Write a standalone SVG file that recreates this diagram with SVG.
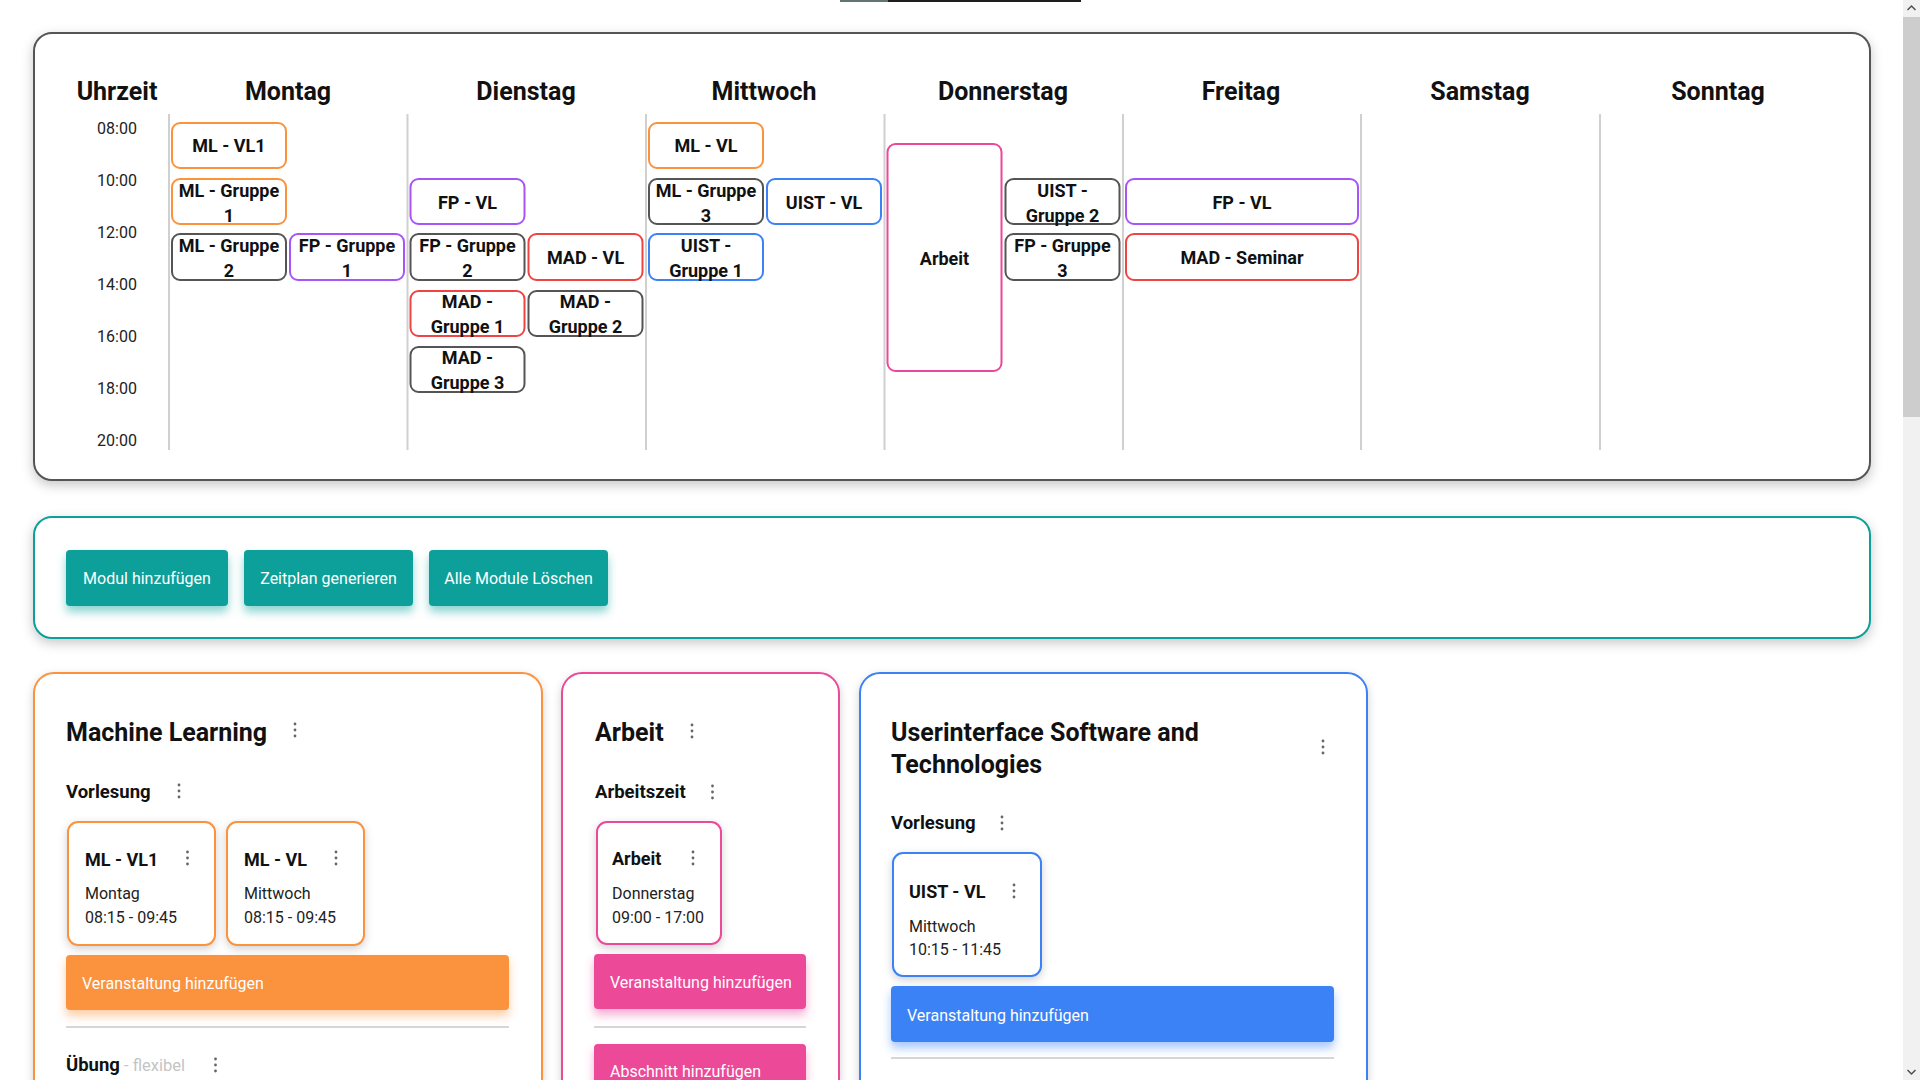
<svg xmlns="http://www.w3.org/2000/svg" width="1920" height="1080" viewBox="0 0 1920 1080">
<defs>
  <filter id="shPanel" x="-5%" y="-10%" width="110%" height="125%">
    <feDropShadow dx="0" dy="4" stdDeviation="6" flood-color="#000" flood-opacity="0.22"/>
  </filter>
  <filter id="shCard" x="-10%" y="-10%" width="120%" height="130%">
    <feDropShadow dx="0" dy="3" stdDeviation="4" flood-color="#000" flood-opacity="0.18"/>
  </filter>
  <filter id="shTeal" x="-20%" y="-30%" width="140%" height="190%">
    <feDropShadow dx="0" dy="6" stdDeviation="5" flood-color="#0c9f99" flood-opacity="0.45"/>
  </filter>
  <filter id="shOrange" x="-10%" y="-30%" width="120%" height="190%">
    <feDropShadow dx="0" dy="6" stdDeviation="5" flood-color="#fb923c" flood-opacity="0.45"/>
  </filter>
  <filter id="shPink" x="-10%" y="-30%" width="120%" height="190%">
    <feDropShadow dx="0" dy="6" stdDeviation="5" flood-color="#ec4899" flood-opacity="0.45"/>
  </filter>
  <filter id="shBlue" x="-10%" y="-30%" width="120%" height="190%">
    <feDropShadow dx="0" dy="6" stdDeviation="5" flood-color="#3b82f6" flood-opacity="0.45"/>
  </filter>
  <g id="kebab">
    <circle cx="0" cy="-6" r="1.4"/>
    <circle cx="0" cy="0" r="1.4"/>
    <circle cx="0" cy="6" r="1.4"/>
  </g>
</defs>
<style>
  text { font-family: Roboto, "Noto Sans", sans-serif; fill: #111; }
  .hdr { font-size: 25px; font-weight: 700; text-anchor: middle; }
  .time { font-size: 16px; text-anchor: middle; fill: #222; }
  .ev { font-size: 18px; font-weight: 700; text-anchor: middle; }
  .evbox { fill: #fff; stroke-width: 2; }
  .o { stroke: #fb923c; }
  .g { stroke: #555; }
  .p { stroke: #a855f7; }
  .r { stroke: #ef4444; }
  .b { stroke: #3b82f6; }
  .k { stroke: #ec4899; }
  .col { stroke: #d0d0d0; stroke-width: 2; }
  .btn { font-size: 16px; fill: #fff; }
  .title { font-size: 25px; font-weight: 700; }
  .sub { font-size: 18.5px; font-weight: 700; }
  .evt { font-size: 18px; font-weight: 700; }
  .info { font-size: 16px; fill: #222; }
  .muted { font-size: 16.5px; fill: #c4c4c4; }
  .keb { fill: #666; }
  .div { stroke: #d6d6d6; stroke-width: 2; }
</style>
<rect width="1920" height="1080" fill="#fff"/>
<rect x="840" y="0" width="48" height="2" fill="#627474"/>
<rect x="888" y="0" width="193" height="2" fill="#1e1e1e"/>

<g id="schedule">
  <rect x="34" y="33" width="1836" height="447" rx="18" fill="#fff" stroke="#555" stroke-width="2" filter="url(#shPanel)"/>
  <g id="headers">
    <text class="hdr" x="117" y="100">Uhrzeit</text>
    <text class="hdr" x="288" y="100">Montag</text>
    <text class="hdr" x="526" y="100">Dienstag</text>
    <text class="hdr" x="764" y="100">Mittwoch</text>
    <text class="hdr" x="1003" y="100">Donnerstag</text>
    <text class="hdr" x="1241" y="100">Freitag</text>
    <text class="hdr" x="1480" y="100">Samstag</text>
    <text class="hdr" x="1718" y="100">Sonntag</text>
  </g>
  <g id="times">
    <text class="time" x="117" y="133.5">08:00</text>
    <text class="time" x="117" y="185.5">10:00</text>
    <text class="time" x="117" y="237.5">12:00</text>
    <text class="time" x="117" y="289.5">14:00</text>
    <text class="time" x="117" y="341.5">16:00</text>
    <text class="time" x="117" y="393.5">18:00</text>
    <text class="time" x="117" y="445.5">20:00</text>
  </g>
  <g id="columns">
    <line class="col" x1="169" y1="114" x2="169" y2="450"/>
    <line class="col" x1="407.5" y1="114" x2="407.5" y2="450"/>
    <line class="col" x1="646" y1="114" x2="646" y2="450"/>
    <line class="col" x1="884.5" y1="114" x2="884.5" y2="450"/>
    <line class="col" x1="1123" y1="114" x2="1123" y2="450"/>
    <line class="col" x1="1361" y1="114" x2="1361" y2="450"/>
    <line class="col" x1="1600" y1="114" x2="1600" y2="450"/>
  </g>

  <g id="ev-ml-vl1"><rect class="evbox o" x="172" y="123" width="114" height="45" rx="8"/><text class="ev" x="229" y="152">ML - VL1</text></g>
  <g id="ev-ml-g1"><rect class="evbox o" x="172" y="179" width="114" height="45" rx="8"/><text class="ev" x="229" y="197">ML - Gruppe</text><text class="ev" x="229" y="222">1</text></g>
  <g id="ev-ml-g2"><rect class="evbox g" x="172" y="234" width="114" height="46" rx="8"/><text class="ev" x="229" y="252">ML - Gruppe</text><text class="ev" x="229" y="277">2</text></g>
  <g id="ev-fp-g1"><rect class="evbox p" x="290" y="234" width="114" height="46" rx="8"/><text class="ev" x="347" y="252">FP - Gruppe</text><text class="ev" x="347" y="277">1</text></g>

  <g id="ev-fp-vl-di"><rect class="evbox p" x="410.5" y="179" width="114" height="45" rx="8"/><text class="ev" x="467.5" y="208.5">FP - VL</text></g>
  <g id="ev-fp-g2"><rect class="evbox g" x="410.5" y="234" width="114" height="46" rx="8"/><text class="ev" x="467.5" y="252">FP - Gruppe</text><text class="ev" x="467.5" y="277">2</text></g>
  <g id="ev-mad-vl"><rect class="evbox r" x="528.5" y="234" width="114" height="46" rx="8"/><text class="ev" x="585.5" y="263.5">MAD - VL</text></g>
  <g id="ev-mad-g1"><rect class="evbox r" x="410.5" y="291" width="114" height="45" rx="8"/><text class="ev" x="467.5" y="308">MAD -</text><text class="ev" x="467.5" y="333">Gruppe 1</text></g>
  <g id="ev-mad-g2"><rect class="evbox g" x="528.5" y="291" width="114" height="45" rx="8"/><text class="ev" x="585.5" y="308">MAD -</text><text class="ev" x="585.5" y="333">Gruppe 2</text></g>
  <g id="ev-mad-g3"><rect class="evbox g" x="410.5" y="347" width="114" height="45" rx="8"/><text class="ev" x="467.5" y="364">MAD -</text><text class="ev" x="467.5" y="389">Gruppe 3</text></g>

  <g id="ev-ml-vl-mi"><rect class="evbox o" x="649" y="123" width="114" height="45" rx="8"/><text class="ev" x="706" y="152">ML - VL</text></g>
  <g id="ev-ml-g3"><rect class="evbox g" x="649" y="179" width="114" height="45" rx="8"/><text class="ev" x="706" y="197">ML - Gruppe</text><text class="ev" x="706" y="222">3</text></g>
  <g id="ev-uist-vl"><rect class="evbox b" x="767" y="179" width="114" height="45" rx="8"/><text class="ev" x="824" y="208.5">UIST - VL</text></g>
  <g id="ev-uist-g1"><rect class="evbox b" x="649" y="234" width="114" height="46" rx="8"/><text class="ev" x="706" y="252">UIST -</text><text class="ev" x="706" y="277">Gruppe 1</text></g>

  <g id="ev-arbeit"><rect class="evbox k" x="887.5" y="144" width="114" height="227" rx="8"/><text class="ev" x="944.5" y="264.5">Arbeit</text></g>
  <g id="ev-uist-g2"><rect class="evbox g" x="1005.5" y="179" width="114" height="45" rx="8"/><text class="ev" x="1062.5" y="197">UIST -</text><text class="ev" x="1062.5" y="222">Gruppe 2</text></g>
  <g id="ev-fp-g3"><rect class="evbox g" x="1005.5" y="234" width="114" height="46" rx="8"/><text class="ev" x="1062.5" y="252">FP - Gruppe</text><text class="ev" x="1062.5" y="277">3</text></g>

  <g id="ev-fp-vl-fr"><rect class="evbox p" x="1126" y="179" width="232" height="45" rx="8"/><text class="ev" x="1242" y="208.5">FP - VL</text></g>
  <g id="ev-mad-sem"><rect class="evbox r" x="1126" y="234" width="232" height="46" rx="8"/><text class="ev" x="1242" y="263.5">MAD - Seminar</text></g>
</g>

<g id="toolbar">
  <rect x="34" y="517" width="1836" height="121" rx="18" fill="#fff" stroke="#0c9f99" stroke-width="2" filter="url(#shPanel)"/>
  <g id="btn-modul"><rect x="66" y="550" width="162" height="56" rx="4" fill="#0c9f99" filter="url(#shTeal)"/><text class="btn" x="147" y="584" text-anchor="middle">Modul hinzufügen</text></g>
  <g id="btn-zeitplan"><rect x="244" y="550" width="169" height="56" rx="4" fill="#0c9f99" filter="url(#shTeal)"/><text class="btn" x="328.5" y="584" text-anchor="middle">Zeitplan generieren</text></g>
  <g id="btn-loeschen"><rect x="429" y="550" width="179" height="56" rx="4" fill="#0c9f99" filter="url(#shTeal)"/><text class="btn" x="518.5" y="584" text-anchor="middle">Alle Module Löschen</text></g>
</g>

<g id="module-ml">
  <rect x="34" y="673" width="508" height="440" rx="20" fill="#fff" stroke="#fb923c" stroke-width="2" filter="url(#shCard)"/>
  <text class="title" x="66" y="741">Machine Learning</text>
  <use href="#kebab" class="keb" x="295" y="730"/>
  <text class="sub" x="66" y="798">Vorlesung</text>
  <use href="#kebab" class="keb" x="179" y="791"/>
  <g id="card-ml-vl1">
    <rect x="68" y="822" width="147" height="123" rx="10" fill="#fff" stroke="#fb923c" stroke-width="2" filter="url(#shCard)"/>
    <text class="evt" x="85" y="866">ML - VL1</text>
    <use href="#kebab" class="keb" x="187.5" y="858"/>
    <text class="info" x="85" y="899">Montag</text>
    <text class="info" x="85" y="923">08:15 - 09:45</text>
  </g>
  <g id="card-ml-vl">
    <rect x="227" y="822" width="137" height="123" rx="10" fill="#fff" stroke="#fb923c" stroke-width="2" filter="url(#shCard)"/>
    <text class="evt" x="244" y="866">ML - VL</text>
    <use href="#kebab" class="keb" x="336" y="858"/>
    <text class="info" x="244" y="899">Mittwoch</text>
    <text class="info" x="244" y="923">08:15 - 09:45</text>
  </g>
  <rect x="66" y="955" width="443" height="55" rx="4" fill="#fb923c" filter="url(#shOrange)"/>
  <text class="btn" x="82" y="989">Veranstaltung hinzufügen</text>
  <line class="div" x1="66" y1="1027" x2="509" y2="1027"/>
  <text x="66" y="1071"><tspan class="sub">Übung</tspan><tspan class="muted"> - flexibel</tspan></text>
  <use href="#kebab" class="keb" x="215.5" y="1065"/>
</g>

<g id="module-arbeit">
  <rect x="562" y="673" width="277" height="440" rx="20" fill="#fff" stroke="#ec4899" stroke-width="2" filter="url(#shCard)"/>
  <text class="title" x="595" y="741">Arbeit</text>
  <use href="#kebab" class="keb" x="692" y="731"/>
  <text class="sub" x="595" y="798">Arbeitszeit</text>
  <use href="#kebab" class="keb" x="712.5" y="792"/>
  <g id="card-arbeit">
    <rect x="597" y="822" width="124" height="122" rx="10" fill="#fff" stroke="#ec4899" stroke-width="2" filter="url(#shCard)"/>
    <text class="evt" x="612" y="865">Arbeit</text>
    <use href="#kebab" class="keb" x="693" y="858"/>
    <text class="info" x="612" y="899">Donnerstag</text>
    <text class="info" x="612" y="923">09:00 - 17:00</text>
  </g>
  <rect x="594" y="954" width="212" height="55" rx="4" fill="#ec4899" filter="url(#shPink)"/>
  <text class="btn" x="610" y="988">Veranstaltung hinzufügen</text>
  <line class="div" x1="594" y1="1027" x2="806" y2="1027"/>
  <rect x="594" y="1044" width="212" height="55" rx="4" fill="#ec4899" filter="url(#shPink)"/>
  <text class="btn" x="610" y="1077">Abschnitt hinzufügen</text>
</g>

<g id="module-uist">
  <rect x="860" y="673" width="507" height="440" rx="20" fill="#fff" stroke="#3b82f6" stroke-width="2" filter="url(#shCard)"/>
  <text class="title" x="891" y="741">Userinterface Software and</text>
  <text class="title" x="891" y="773">Technologies</text>
  <use href="#kebab" class="keb" x="1323" y="747"/>
  <text class="sub" x="891" y="829">Vorlesung</text>
  <use href="#kebab" class="keb" x="1002" y="823"/>
  <g id="card-uist-vl">
    <rect x="893" y="853" width="148" height="123" rx="10" fill="#fff" stroke="#3b82f6" stroke-width="2" filter="url(#shCard)"/>
    <text class="evt" x="909" y="898">UIST - VL</text>
    <use href="#kebab" class="keb" x="1014" y="891"/>
    <text class="info" x="909" y="932">Mittwoch</text>
    <text class="info" x="909" y="955">10:15 - 11:45</text>
  </g>
  <rect x="891" y="986" width="443" height="56" rx="4" fill="#3b82f6" filter="url(#shBlue)"/>
  <text class="btn" x="907" y="1021">Veranstaltung hinzufügen</text>
  <line class="div" x1="891" y1="1058" x2="1334" y2="1058"/>
</g>

<g id="scrollbar">
  <rect x="1903" y="0" width="17" height="1080" fill="#f1f1f1"/>
  <rect x="1903" y="17" width="17" height="400" fill="#cdcdcd"/>
  <polyline points="1907.5,10 1911.5,6 1915.5,10" fill="none" stroke="#505050" stroke-width="1.5"/>
  <polyline points="1907.5,1070 1911.5,1074 1915.5,1070" fill="none" stroke="#505050" stroke-width="1.5"/>
</g>
</svg>
